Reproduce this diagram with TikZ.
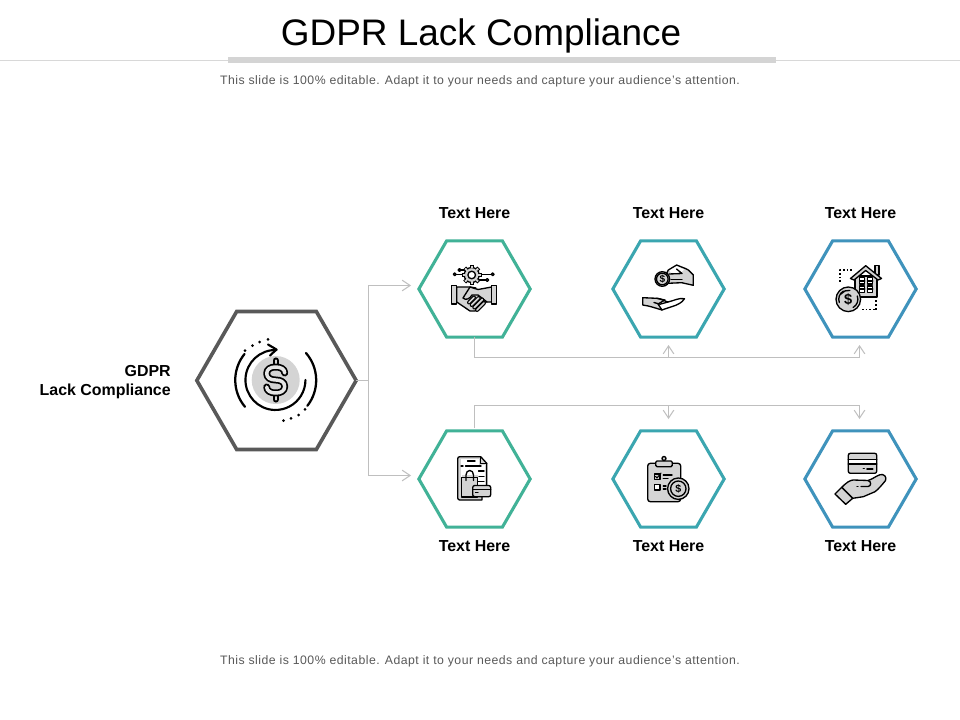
\documentclass[tikz,border=0pt]{standalone}
\usepackage{fontspec}
\setmainfont{Liberation Sans}
\usetikzlibrary{shapes.geometric,arrows.meta}
\definecolor{hA}{HTML}{41B297}
\definecolor{hB}{HTML}{3BA6B0}
\definecolor{hC}{HTML}{3F93BC}
\definecolor{hD}{HTML}{595959}
\definecolor{conn}{HTML}{BFBFBF}
\definecolor{ig}{HTML}{D4D4D4}
\tikzset{
 hexa/.style={regular polygon,regular polygon sides=6,inner sep=0pt,outer sep=0pt,minimum size=83.5pt,line width=2.3pt,draw=#1,fill=white},
 hexbig/.style={regular polygon,regular polygon sides=6,inner sep=0pt,outer sep=0pt,minimum size=119.5pt,line width=2.7pt,draw=hD,fill=white},
 conline/.style={draw=conn,line width=0.75pt},
 conarrow/.style={conline,-{Straight Barb[length=6pt,width=8pt,line width=0.75pt]}},
 lab/.style={font=\bfseries\fontsize{11.95pt}{14pt}\selectfont,text=black,inner sep=0pt},
 sub/.style={font=\fontsize{9.2pt}{11pt}\selectfont\addfontfeatures{LetterSpace=3.9},text=hD,inner sep=0pt},
 ico/.style={draw=black,line width=1pt,line join=round,line cap=round},
 icof/.style={ico,fill=ig},
 icow/.style={ico,fill=white},
 coinlab/.style={font=\bfseries\fontsize{#1}{#1}\selectfont,text=black,inner sep=0pt},
 dotln/.style={ico,line width=1.3pt,dash pattern=on 1.3pt off 1.5pt,line cap=butt},
 capsout/.style={draw=black,line width=3pt,line cap=round},
 capsin/.style={draw=ig,line width=1.3pt,line cap=round}
}
\begin{document}
\begin{tikzpicture}[x=0.75pt,y=-0.75pt]
\useasboundingbox[fill=white] (0,0) rectangle (960,720);
% header
\draw[draw=ig!90!white,line width=0.6pt] (0,60.5) -- (960,60.5);
\fill[fill=ig] (228,57) rectangle (776,63);
\node[font=\fontsize{27.7pt}{32pt}\selectfont,text=black,inner sep=0pt] (title) at (481,35.5) {GDPR Lack Compliance};
\node[sub] (st) at (480,81) {This slide is 100\% editable. Adapt it to your needs and capture your audience's attention.};
\node[sub] (sb) at (480,661) {This slide is 100\% editable. Adapt it to your needs and capture your audience's attention.};
% hexagons
\node[hexbig] (big) at (276.5,380.5) {};
\node[hexa=hA] (h1) at (474.5,289) {};
\node[hexa=hB] (h2) at (668.5,289) {};
\node[hexa=hC] (h3) at (860.5,289) {};
\node[hexa=hA] (h4) at (474.5,479) {};
\node[hexa=hB] (h5) at (668.5,479) {};
\node[hexa=hC] (h6) at (860.5,479) {};
% labels
\node[lab] (l1) at (474.5,213.5) {Text Here};
\node[lab] (l2) at (668.5,213.5) {Text Here};
\node[lab] (l3) at (860.5,213.5) {Text Here};
\node[lab] (l4) at (474.5,546.5) {Text Here};
\node[lab] (l5) at (668.5,546.5) {Text Here};
\node[lab] (l6) at (860.5,546.5) {Text Here};
\node[lab,anchor=east,align=right,font=\bfseries\fontsize{11.95pt}{14.3pt}\selectfont] (lm) at (171,382) {GDPR\\Lack Compliance};
% connectors
\coordinate (sp) at (368,380.5);
\coordinate (tA) at (411,285.5);
\coordinate (tB) at (411,475.5);
\coordinate (ja) at (474.5,357.5);
\coordinate (jb) at (474.5,405.5);
\coordinate (a2) at (668.5,345);
\coordinate (a3) at (859.5,345);
\coordinate (b2) at (668.5,419);
\coordinate (b3) at (859.5,419);
\coordinate (b0) at (474.5,428);
\draw[conline] (big.east) -- (sp);
\draw[conarrow] (sp) |- (tA);
\draw[conarrow] (sp) |- (tB);
\draw[conline] (h1.south) -- (ja) -- (ja -| a3);
\draw[conarrow] (ja -| a2) -- (a2);
\draw[conarrow] (ja -| a3) -- (a3);
\draw[conline] (b0) -- (jb) -- (jb -| b3);
\draw[conarrow] (jb -| b2) -- (b2);
\draw[conarrow] (jb -| b3) -- (b3);
% ---------- main icon
\fill[ig] (275.7,380) circle[radius=24];
\begin{scope}[shift={(275.7,380)},line cap=round,line join=round]
 \def\Spath{(9,-7) .. controls (9,-11) and (5,-13) .. (0,-13) .. controls (-5,-13) and (-9,-11) .. (-9,-6.5) .. controls (-9,-2) and (-5,0) .. (0,0) .. controls (5,0) and (9,2) .. (9,6.5) .. controls (9,11) and (5,13) .. (0,13) .. controls (-5,13) and (-9,11) .. (-9,7)}
 \draw[black,line width=4.6pt] (0,-19.5) -- (0,-13);
 \draw[black,line width=4.6pt] (0,13) -- (0,19.5);
 \draw[ig,line width=1.8pt] (0,-19.5) -- (0,-13);
 \draw[ig,line width=1.8pt] (0,13) -- (0,19.5);
 \draw[black,line width=5.2pt] \Spath;
 \draw[ig!60!white,line width=2.6pt] \Spath;
\end{scope}
\draw[ico,line width=1.6pt] (276.5,350) arc[start angle=-88,end angle=-360,radius=30];
\draw[ico,line width=1.6pt] (268,344.5) -- (276.5,349.5) -- (270,355.5);
\draw[ico,line width=1.7pt] (244.5,354) arc[start angle=219,end angle=140,radius=41.5];
\draw[ico,line width=1.7pt] (306,353) arc[start angle=-41,end angle=38,radius=41.5];
\foreach \px/\py in {245/350.7,252.5/345.7,259.5/342,268/339.3,283.5/420.7,291/418.3,298.5/415,305/409.3}{\fill[black] (\px,\py) circle[radius=1.5];}
% ---------- icon 1 handshake
\foreach \a in {0,45,...,315}{
 \draw[capsout,line cap=butt,rotate around={\a:(471.7,275)}] (471.7,265) -- (471.7,268);
 \draw[capsin,line cap=butt,rotate around={\a:(471.7,275)}] (471.7,266) -- (471.7,269);
}
\draw[ico] (460.5,270) -- (467,270);
\draw[ico] (456,274.3) -- (465,274.3);
\draw[ico] (479,274.3) -- (491.5,274.3);
\draw[ico] (478,280) -- (486,280);
\draw[icof] (471.7,275) circle[radius=7.5];
\foreach \a in {0,45,...,315}{
 \draw[capsin,line cap=butt,rotate around={\a:(471.7,275)}] (471.7,266) -- (471.7,268.5);
}
\draw[icow] (471.7,275) circle[radius=3.8];
\draw[icow] (459.5,270) circle[radius=1.4];
\draw[icow] (454.7,274.3) circle[radius=1.4];
\draw[icow] (492.7,274.3) circle[radius=1.4];
\draw[icow] (487.3,280) circle[radius=1.4];
\draw[icof] (456.7,287) -- (470,287) -- (478,289.5) -- (491.7,287) -- (491.7,302) -- (484,302) -- (475,311) -- (470,311) -- (456.7,302) -- cycle;
\draw[icof] (451.7,285.5) rectangle (456.7,304);
\draw[icof] (491.7,285.5) rectangle (496.5,304);
\draw[ico] (476,288) -- (470,287) -- (463,298) .. controls (466,301) and (470,298.5) .. (472,295) -- (478,295) -- (487,302);
\foreach \p/\q/\l in {469/302.5/5,471.7/305/7,474.3/307.5/8,477/310/7}{
 \draw[capsout] (\p,\q) -- ++(\l,-\l);
 \draw[capsin] (\p,\q) -- ++(\l,-\l);
}
% ---------- icon 2 coin and hands
\draw[ico,fill=ig] (668.3,270) -- (676.7,265) .. controls (681,267) and (685,268) .. (688.3,270) -- (693.3,275) -- (693.3,285.3) -- (681.7,282.7) -- (668,283.3) -- (662,283) -- cycle;
\fill[white] (669.5,270.5) -- (676.7,266.2) -- (684,269.5) -- (680,273.5) -- (671,273.5) -- cycle;
\draw[ico] (669,274) -- (682,273.5) -- (676.5,269);
\draw[ico] (671,279.5) -- (682,279.5);
\draw[icof] (662.3,279) circle[radius=7.3];
\draw[ico] (662.3,279) circle[radius=5.8];
\node[coinlab=7.5pt] (cn2) at (662.3,279.2) {\$};
\draw[icof] (642.7,297.7) -- (656.7,298.3) -- (665,300) -- (658,304) -- (662,310) .. controls (655,308) and (650,306) .. (642.7,305) -- cycle;
\draw[ico] (656.7,298.3) .. controls (661,298.5) and (664,301) .. (668,302) -- (660,304.2) -- (654,302.5);
\draw[ico] (668,302) .. controls (673,301) and (679,297.5) .. (684.5,298.7) .. controls (682,303) and (677,305) .. (671.7,306.7) -- (661.7,310);
% ---------- icon 3 house
\draw[dotln] (840,282) -- (840,270) -- (853,270);
\draw[dotln] (876,309.5) -- (876,299);
\draw[dotln] (862,309.5) -- (876,309.5);
\draw[icof] (855,276) rectangle (877,297);
\draw[icof] (875,265.5) rectangle (879,275);
\draw[icof] (850.5,278.5) -- (865.7,265.7) -- (881.5,278.5) -- (878,280) -- (865.7,270.5) -- (854,280) -- cycle;
\foreach \wx in {859.7,867.7}{\foreach \wy in {277.7,286}{
 \draw[icow,line width=1.1pt] (\wx,\wy) rectangle ++(5,6.5);
 \draw[ico,line width=1.1pt] (\wx,\wy+3.2) -- ++(5,0);
}}
\draw[icof] (848.3,299.3) circle[radius=12.3];
\draw[ico] (857.3,296) arc[start angle=-20,end angle=60,radius=9.5];
\draw[ico] (839.3,302.5) arc[start angle=160,end angle=240,radius=9.5];
\draw[ico] (841,294) arc[start angle=216,end angle=280,radius=9];
\node[coinlab=11pt] (cn3) at (848.3,299.5) {\$};
% ---------- icon 4 document
\draw[icof] (457.7,458.7) arc[start angle=180,end angle=270,radius=2] -- (480.7,456.7) -- (486.7,463.3) -- (486.7,486) -- (482,486) -- (482,500) -- (459.7,500) arc[start angle=90,end angle=180,radius=2] -- cycle;
\fill[white] (460.5,459) rectangle (479,475);
\fill[white] (478,465) rectangle (484.5,485);
\fill[white] (460.5,475) rectangle (462,498);
\draw[ico] (480.7,456.7) -- (480.7,463.3) -- (486.7,463.3);
\draw[ico] (467.5,461) -- (475,461);
\draw[ico] (461,466) -- (463,466);
\draw[ico] (465.5,466) -- (481,466);
\draw[ico] (478.5,471) -- (484,471);
\draw[ico] (479,476.7) -- (484,476.7);
\draw[ico] (478.5,481.7) -- (484,481.7);
\draw[icof] (461.7,477.3) rectangle (477.7,497);
\draw[ico] (466,480.5) -- (466,475) .. controls (466,469) and (473.5,469) .. (473.5,475) -- (473.5,480.5);
\draw[icof] (472.7,487.5) arc[start angle=180,end angle=270,radius=2] -- (488.7,485.5) arc[start angle=-90,end angle=0,radius=2] -- (490.7,494.7) arc[start angle=0,end angle=90,radius=2] -- (474.7,496.7) arc[start angle=90,end angle=180,radius=2] -- cycle;
\draw[ico] (472.7,489.5) -- (490.7,489.5);
\draw[ico] (475.5,492.5) -- (478,492.5);
% ---------- icon 5 clipboard
\draw[icof,rounded corners=2pt] (647.7,463.3) rectangle (680.7,501.7);
\draw[icof,rounded corners=1pt] (655.7,461) -- (672.3,461) -- (672.3,466.7) -- (655.7,466.7) -- cycle;
\draw[icof] (664,458.5) circle[radius=2];
\draw[icof] (654.3,474) rectangle (660,479.5);
\draw[ico,line width=0.8pt] (655.5,476.5) -- (657,478) -- (661,473);
\draw[ico] (663.3,475) -- (672,475);
\draw[ico] (663.3,478.5) -- (668,478.5);
\draw[icow] (654.3,484.5) rectangle (660,490);
\draw[ico] (663.3,486) -- (666,486);
\draw[ico] (663.3,489) -- (666,489);
\draw[icof] (678.3,488.7) circle[radius=10.7];
\draw[icof] (678.3,488.7) circle[radius=7.7];
\node[coinlab=8pt] (cn5) at (678.3,488.9) {\$};
% ---------- icon 6 card and hand
\draw[icof,rounded corners=1.5pt] (848.3,453.3) rectangle (876.7,473.3);
\fill[white] (849,460) rectangle (876,463.5);
\draw[ico] (848.3,459.5) -- (876.7,459.5);
\draw[ico] (848.3,464) -- (876.7,464);
\draw[ico] (863.3,468.5) -- (864.3,468.5);
\draw[ico,line width=1.5pt] (867,468.5) -- (872.7,468.5);
\draw[icof] (841.7,487.3) .. controls (846,483) and (850,480) .. (853.3,480) -- (868,480.5) .. controls (872,479.5) and (876,476) .. (880,474.7) .. controls (884,473.5) and (887,477) .. (885.5,480.5) .. controls (882,485) and (878,489.5) .. (875,491.7) -- (863.3,496.7) -- (852.7,498.3) -- cycle;
\draw[ico] (857,486.5) -- (858,486.5);
\draw[ico] (861,486.5) -- (868,486.5) .. controls (871,486.5) and (872,481.5) .. (868,480.5);
\draw[icof] (835,494) -- (841.7,487.3) -- (852.7,498.3) -- (845.7,504.3) -- cycle;
\end{tikzpicture}
\end{document}
